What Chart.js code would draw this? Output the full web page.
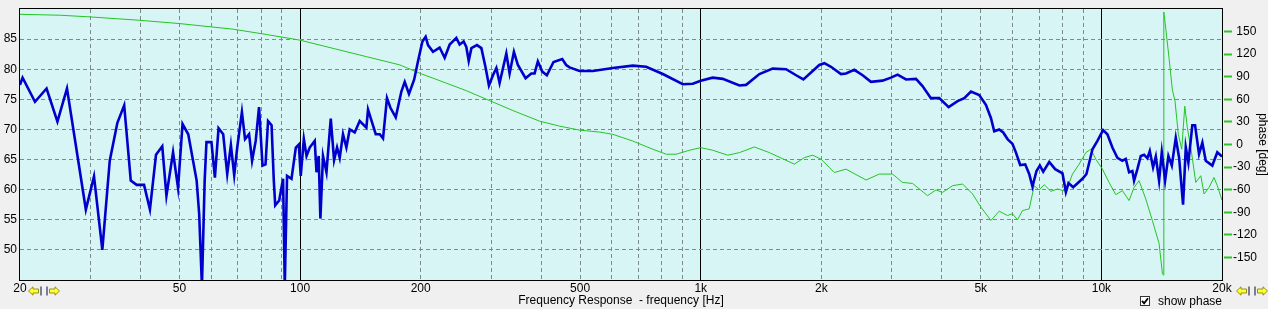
<!DOCTYPE html>
<html>
<head>
<meta charset="utf-8">
<script src="https://cdn.jsdelivr.net/npm/chart.js@4/dist/chart.umd.min.js"></script>
<style>
html,body{margin:0;padding:0;background:#f0f0f0;}
#wrap{position:relative;width:1268px;height:309px;overflow:hidden;}
canvas{display:block;}
.nav{position:absolute;top:286px;width:32px;height:10px;display:block;}
#chk{position:absolute;left:1140px;top:296px;width:10px;height:10px;border:1px solid #333;background:#fff;box-sizing:border-box;}
#chk svg{display:block;position:absolute;left:0;top:0;}
#chkLbl{position:absolute;left:1158px;top:294px;font:12px "Liberation Sans",Arial,sans-serif;color:#000;white-space:nowrap;}
</style>
</head>
<body>
<div id="wrap">
<canvas id="c" width="1268" height="309"></canvas>
<svg class="nav" style="left:28px" viewBox="0 0 32 10"><polygon points="0.5,5 5,0.8 5,3 10.5,3 10.5,7 5,7 5,9.2" fill="#ffff33" stroke="#7a7a00" stroke-width="0.8"/><line x1="13" y1="0.5" x2="13" y2="9.5" stroke="#303060" stroke-width="1.2"/><line x1="19" y1="0.5" x2="19" y2="9.5" stroke="#303060" stroke-width="1.2"/><polygon points="31.5,5 27,0.8 27,3 21.5,3 21.5,7 27,7 27,9.2" fill="#ffff33" stroke="#7a7a00" stroke-width="0.8"/></svg>
<svg class="nav" style="left:1236px" viewBox="0 0 32 10"><polygon points="0.5,5 5,0.8 5,3 10.5,3 10.5,7 5,7 5,9.2" fill="#ffff33" stroke="#7a7a00" stroke-width="0.8"/><line x1="13" y1="0.5" x2="13" y2="9.5" stroke="#303060" stroke-width="1.2"/><line x1="19" y1="0.5" x2="19" y2="9.5" stroke="#303060" stroke-width="1.2"/><polygon points="31.5,5 27,0.8 27,3 21.5,3 21.5,7 27,7 27,9.2" fill="#ffff33" stroke="#7a7a00" stroke-width="0.8"/></svg>
<div id="chk"><svg width="8" height="8" viewBox="0 0 8 8"><path d="M1 3.8 L3.1 6.3 L7 1.2" fill="none" stroke="#000" stroke-width="1.8"/></svg></div>
<div id="chkLbl">show phase</div>
</div>
<script>
// ---- data ----
const splFreqs = [20,20.3,21.8,23.3,24.8,26.2,29.2,30.6,32.1,33.5,35.0,36.4,37.8,39.1,40.8,42.2,43.7,45.3,46.4,48.2,49.6,50.9,52.6,55.2,56.0,56.9,57.8,58.4,60.1,61.3,62.6,64.3,65.8,67.2,68.5,69.7,71.6,72.9,74.6,75.9,77.5,79.0,80.6,82.0,83.2,84.9,86.0,86.7,88.7,90.7,91.6,92.8,95.2,97.6,99.3,100.4,102.2,103.8,105.7,108.8,109.9,111.3,112.4,114.1,116.4,119.3,121.6,123.7,125.6,128.0,130.5,133.0,136.9,140.9,146.4,147.8,150.7,154.5,158.1,161.1,164.8,168.1,173.3,179.0,182.5,187.0,192.7,196.9,202.0,205.8,208.6,214.7,223.0,229.6,236.3,245.5,250.2,256.0,260.0,263.6,267.7,276.4,283.5,290.6,296.1,303.0,309.0,314.8,327.2,333.4,341.8,349.7,365.5,377.7,384.9,392.2,402.3,413.0,429.2,451.2,461.6,470.5,498.4,538.0,603.6,676.8,730.8,804.2,902.0,955.4,1000,1071,1135,1249,1298,1401,1512,1633,1730,1804,1903,1977,2035,2114,2239,2304,2417,2536,2660,2843,2984,3100,3254,3446,3577,3754,3940,4157,4376,4548,4726,4955,5149,5300,5402,5559,5689,5831,6000,6118,6272,6454,6604,6730,6887,7023,7158,7410,7668,7998,8155,8278,8504,8970,9178,9500,9774,10098,10351,10653,10964,11284,11504,11726,11950,12066,12298,12542,12781,13026,13207,13460,13672,13932,14150,14422,14698,14988,15334,15630,15990,16242,16486,16866,17132,17528,17866,18216,18918,19468,20000];
const splValues = [77.4,78.6,74.6,76.8,71.3,76.8,56.7,62.2,50.0,64.8,71.1,74.0,61.5,60.8,60.8,56.7,65.8,67.2,59.0,66.2,60.3,70.9,69.2,61.5,56.0,44.0,61.5,67.9,67.9,62.0,70.2,69.2,62.6,67.4,62.4,67.0,72.9,68.4,69.2,64.8,68.1,73.7,64.0,64.2,71.4,70.7,61.5,57.4,58.2,61.8,44.0,62.3,61.8,67.0,67.5,62.3,68.4,65.6,67.0,68.1,62.9,65.6,55.2,65.6,62.9,71.8,64.9,67.0,65.3,69.2,67.0,70.0,69.5,71.4,70.3,73.3,71.5,69.2,69.2,68.5,75.2,73.6,72.0,76.3,77.9,75.9,78.3,81.3,84.6,85.4,84.0,82.9,83.6,81.9,84.1,85.2,84.1,84.6,83.7,81.4,83.5,84.0,83.5,80.2,77.3,79.0,80.2,77.7,82.6,79.3,82.9,80.7,78.5,79.3,79.3,81.3,79.6,79.0,81.2,81.7,80.7,80.3,79.7,79.7,80.2,80.6,80.4,79.2,77.5,77.6,78.1,78.6,78.4,77.3,77.4,79.2,80.1,80.0,79.0,78.3,79.7,80.7,81.0,80.4,79.2,79.3,79.9,79.0,77.9,78.1,78.6,79.1,78.3,78.4,77.2,75.2,75.2,73.7,74.7,75.2,76.3,75.7,74.1,71.9,69.7,70.0,69.5,68.4,67.6,66.2,64.1,64.2,62.6,60.5,63.1,64.0,63.0,64.6,63.4,62.7,59.6,61.1,60.4,61.8,62.6,66.7,68.1,69.9,69.2,67.0,65.3,64.8,65.1,62.9,63.1,61.5,63.4,65.6,65.8,65.2,66.4,63.7,65.5,61.5,66.2,61.5,65.6,64.0,68.6,65.3,57.5,67.0,64.5,70.7,70.7,65.9,67.8,64.8,64.0,66.2,65.5];
const phaseFreqs = [20,25.2,29.9,39.8,50.1,68.1,82.5,99.8,120.9,146.4,177.3,198.9,231.8,260.0,297.2,339.8,396.2,444.4,498.4,559.0,603.6,676.8,759.2,820.0,868.4,937.2,1000,1071,1168,1249,1361,1484,1713,1814,1903,1997,2155,2304,2586,2790,3012,3189,3378,3682,3864,4014,4253,4504,4769,5006,5300,5559,5831,6000,6175,6355,6604,6797,6993,7198,7478,7770,8155,8470,8802,9145,9412,9683,10059,10452,10863,11284,11726,12066,12417,12905,13404,13932,14200,14282,14316,14478,14755,15036,15270,15560,15868,16148,16392,16810,17201,17704,18040,18566,19099,19468,20000];
const phaseValues = [173,171.7,169.5,165,160.6,153.2,146.1,138.7,127.7,116.7,105.8,94.7,81.5,71.5,58.3,45.1,31.0,24.4,19.1,16.5,13.5,4.6,-6.3,-12.9,-12.9,-7.6,-4.2,-7.6,-14.2,-10.8,-3.3,-10.8,-26.1,-17.4,-14.2,-19.5,-37.2,-32.7,-47.2,-39.3,-39.3,-50.4,-51.7,-67.9,-60.4,-63.6,-54.7,-52.5,-65.7,-83.3,-100.9,-88.6,-94.3,-92.0,-100,-87.7,-85.5,-54.7,-60.4,-53.4,-62.2,-59.1,-62.2,-39.3,-26.1,-10.8,-6.3,-19.5,-32.7,-50.4,-66.6,-61.3,-74.5,-57.0,-48.1,-72.3,-100.9,-131.6,-171.2,-173.4,176,154,114.5,72.8,57.4,13.4,-6.3,50.8,22.2,-12.9,-50.4,-41.5,-65.7,-57,-43.8,-54.7,-74];
const freqGrid = [20,30,40,50,60,70,80,90,100,200,300,400,500,600,700,800,900,1000,2000,3000,4000,5000,6000,7000,8000,9000,10000,20000];
const freqLabels = {20:'20',50:'50',100:'100',200:'200',500:'500',1000:'1k',2000:'2k',5000:'5k',10000:'10k',20000:'20k'};
const decadeLines = [100,1000,10000];
const splTicks = [50,55,60,65,70,75,80,85];
const phaseTicks = [-150,-120,-90,-60,-30,0,30,60,90,120,150];

const FONT = '"Liberation Sans", Arial, sans-serif';
Chart.defaults.font.family = FONT;
Chart.defaults.font.size = 12;
Chart.defaults.color = '#000';

const splPts = splFreqs.map((f,i)=>({x:f,y:splValues[i]}));
const phasePts = phaseFreqs.map((f,i)=>({x:f,y:phaseValues[i]}));

const areaPlugin = {
  id:'area',
  beforeDraw(chart){
    const a = chart.chartArea, c = chart.ctx;
    c.save(); c.fillStyle = '#d6f5f4'; c.fillRect(a.left,a.top,a.right-a.left,a.bottom-a.top); c.restore();
  },
  afterDraw(chart){
    const a = chart.chartArea, c = chart.ctx;
    c.save(); c.strokeStyle='#000'; c.lineWidth=1;
    c.strokeRect(Math.round(a.left)-0.5, Math.round(a.top)-0.5, Math.round(a.right-a.left)+1, Math.round(a.bottom-a.top)+1);
    c.restore();
  }
};

const GRID = '#7f8a8a';
new Chart(document.getElementById('c'), {
  type:'line',
  data:{datasets:[
    {label:'SPL', data:splPts, xAxisID:'x', yAxisID:'y', borderColor:'#0000cc', borderWidth:2.6, pointRadius:0, tension:0, fill:false},
    {label:'phase', data:phasePts, xAxisID:'x', yAxisID:'y1', borderColor:'#26c426', borderWidth:1, pointRadius:0, tension:0, fill:false}
  ]},
  options:{
    responsive:false, animation:false, devicePixelRatio:1,
    layout:{padding:{top:7,left:0,right:0,bottom:0}},
    plugins:{legend:{display:false}, tooltip:{enabled:false}},
    scales:{
      x:{type:'logarithmic', position:'bottom', min:20, max:20000,
        afterBuildTicks(s){ s.ticks = freqGrid.map(v=>({value:v})); },
        afterFit(s){ s.height = 29; },
        ticks:{autoSkip:false, maxRotation:0, minRotation:0, padding:1, font:{size:12,lineHeight:1.2}, callback:(v)=>freqLabels[v]||''},
        grid:{drawTicks:false, lineWidth:1,
          color:(ctx)=>{const v = ctx.tick ? ctx.tick.value : 0; return (decadeLines.includes(v)||v===20||v===20000)?'rgba(0,0,0,0)':GRID;}},
        border:{display:false, dash:[4,3]},
        title:{display:true, text:'Frequency Response  - frequency [Hz]', font:{size:12,lineHeight:1.2}, padding:{top:0,bottom:1}}
      },
      x2:{type:'logarithmic', position:'top', min:20, max:20000,
        afterBuildTicks(s){ s.ticks = decadeLines.map(v=>({value:v})); },
        afterFit(s){ s.height = 0; },
        ticks:{display:false},
        grid:{drawTicks:false, color:'#000', lineWidth:1},
        border:{display:false}
      },
      y:{type:'linear', position:'left', min:45, max:90,
        afterBuildTicks(s){ s.ticks = splTicks.map(v=>({value:v})); },
        afterFit(s){ s.width = 20; },
        ticks:{padding:3, font:{size:12,lineHeight:1}},
        grid:{drawTicks:false, color:GRID, lineWidth:1},
        border:{display:false, dash:[4,3]}
      },
      y1:{type:'linear', position:'right', min:-180, max:180,
        afterBuildTicks(s){ s.ticks = phaseTicks.map(v=>({value:v})); },
        afterFit(s){ s.width = 46; },
        ticks:{padding:1, font:{size:12,lineHeight:1}, callback:(v)=> v>=0 ? ' '+v : String(v)},
        grid:{drawOnChartArea:false, drawTicks:true, tickLength:10, tickWidth:2, tickColor:'#2cc42c', tickBorderDash:[0,2,8,40]},
        border:{display:false},
        title:{display:true, text:'phase [deg]', font:{size:12,lineHeight:1}, padding:{top:0,bottom:0}}
      }
    }
  },
  plugins:[areaPlugin]
});
</script>
</body>
</html>
